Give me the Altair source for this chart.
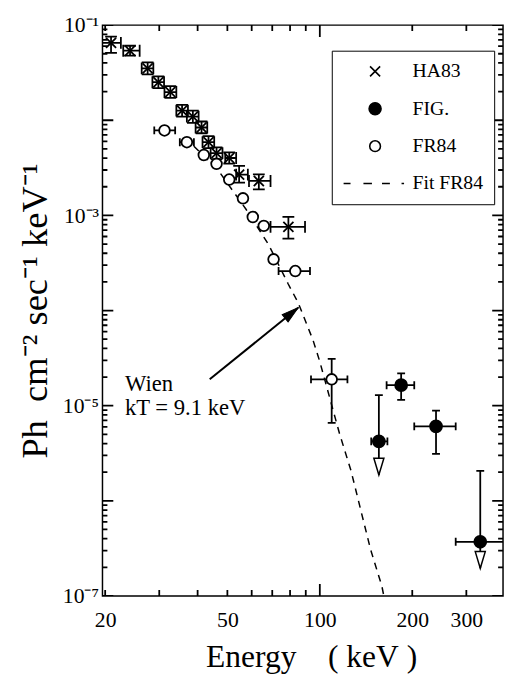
import altair as alt
import pandas as pd

# ---------------- data ----------------
# HA83 (crosses)
ha_E   = [20.9, 24.1, 27.5, 29.8, 32.6, 35.6, 38.6, 41.2, 43.4, 46.1, 50.7, 54.6, 63.3, 79.0]
ha_F   = [0.0651, 0.0538, 0.0351, 0.0251, 0.0198, 0.0126, 0.0109, 0.00839, 0.00588, 0.00452, 0.00401, 0.00268, 0.00230, 0.000757]
ha_Elo = [19.4, 22.9, 26.3, 28.5, 31.2, 34.1, 36.9, 39.4, 41.5, 44.1, 49.2, 53.4, 58.8, 69.1]
ha_Ehi = [22.5, 25.9, 28.7, 31.1, 34.1, 37.2, 40.3, 43.0, 45.3, 48.2, 53.4, 58.3, 69.1, 89.5]
ha_Flo = [0.0510, 0.0478, 0.0304, 0.0218, 0.0172, 0.0109, 0.0094, 0.0073, 0.0051, 0.0039, 0.0035, 0.00221, 0.00188, 0.000569]
ha_Fhi = [0.0757, 0.0607, 0.0405, 0.0290, 0.0229, 0.0145, 0.0126, 0.0097, 0.0068, 0.0052, 0.0046, 0.00332, 0.00270, 0.000962]
ha_Lim = [None] * 14

# FIG. (filled circles)
fig_E   = [155.7, 184.0, 239.0, 333.0]
fig_F   = [4.21e-6, 1.64e-5, 6.06e-6, 3.71e-7]
fig_Elo = [147.0, 165.0, 203.0, 277.0]
fig_Ehi = [166.0, 203.0, 277.0, 420.0]
fig_Flo = [None, 1.15e-5, 3.11e-6, None]
fig_Fhi = [1.29e-5, 2.18e-5, 8.87e-6, 2.06e-6]
fig_Lim = [1.87e-6, None, None, 1.95e-7]   # upper-limit arrow tips

# FR84 (open circles)
fr_E   = [31.2, 36.9, 41.9, 46.1, 50.7, 56.2, 60.5, 65.7, 70.7, 83.2, 109.3]
fr_F   = [0.00782, 0.00588, 0.00431, 0.00348, 0.00238, 0.00151, 0.000962, 0.000776, 0.000345, 0.00026, 1.89e-5]
fr_Elo = [28.9, 35.0, None, None, None, None, None, None, None, 73.4, 93.6]
fr_Ehi = [33.8, 38.9, None, None, None, None, None, None, None, 92.9, 123.0]
fr_Flo = [None] * 10 + [6.6e-6]
fr_Fhi = [None] * 10 + [3.11e-5]
fr_Lim = [None] * 11

# Fit FR84 (dashed Wien curve, read along the dashes)
fit_E = [38.9, 46.8, 57.5, 68.1, 78.9, 85.0, 95.0, 100.0, 115.9, 126.4, 136.0, 146.4, 159.2, 161.6]
fit_F = [5.34e-3, 2.94e-3, 1.16e-3, 4.93e-4, 1.90e-4, 1.21e-4, 4.90e-5, 2.90e-5, 5.09e-6, 2.06e-6, 7.94e-7, 3.06e-7, 1.27e-7, 1.0e-7]

# annotation
ann_text = ["Wien", "kT = 9.1 keV"]
ann_E = [23.2, 23.2]
ann_F = [1.67e-5, 9.46e-6]
arrow_E = [43.8, 85.0]
arrow_F = [1.89e-5, 1.07e-4]

series_names = ["HA83", "FIG.", "FR84", "Fit FR84"]

# axes
x_domain = [19.6, 395.0]
y_domain = [1e-7, 1e-1]
x_label_vals = [20, 50, 100, 200, 300]
x_major_ticks = [100]
x_minor_ticks = [20, 30, 40, 50, 60, 70, 80, 90, 200, 300]
y_label_vals = [1e-1, 1e-3, 1e-5, 1e-7]
y_major_ticks = [1e-7, 1e-6, 1e-5, 1e-4, 1e-3, 1e-2, 1e-1]
y_minor_ticks = [m * 10.0 ** e for e in range(-7, -1) for m in range(2, 10)]

# ---------------- build tables ----------------
FONT = "Liberation Serif"
W, H = 407, 580
xs = alt.Scale(type="log", domain=x_domain, nice=False)
ys = alt.Scale(type="log", domain=y_domain, nice=False)

groups = {
    "HA83": (ha_E, ha_F, ha_Elo, ha_Ehi, ha_Flo, ha_Fhi, ha_Lim),
    "FIG.": (fig_E, fig_F, fig_Elo, fig_Ehi, fig_Flo, fig_Fhi, fig_Lim),
    "FR84": (fr_E, fr_F, fr_Elo, fr_Ehi, fr_Flo, fr_Fhi, fr_Lim),
}
pts, xbar, ybar, vcap, hcap, lim = [], [], [], [], [], []
for s, (E, F, Elo, Ehi, Flo, Fhi, Lim) in groups.items():
    for i in range(len(E)):
        pts.append({"E": E[i], "F": F[i], "series": s})
        if Elo[i] is not None:
            xbar.append({"E": Elo[i], "E2": Ehi[i], "F": F[i]})
            vcap.append({"E": Elo[i], "F": F[i], "s": s})
            vcap.append({"E": Ehi[i], "F": F[i], "s": s})
        if Fhi[i] is not None:
            bottom = Flo[i] if Flo[i] is not None else Lim[i]
            ybar.append({"E": E[i], "F": bottom, "F2": Fhi[i]})
            hcap.append({"E": E[i], "F": Fhi[i], "s": s})
            if Flo[i] is not None:
                hcap.append({"E": E[i], "F": Flo[i], "s": s})
        if Lim[i] is not None:
            lim.append({"E": E[i], "F": Lim[i]})

# inward frame ticks: centred short lines on the frame edges, the outer half clipped away
for v in x_major_ticks:
    vcap += [{"E": v, "F": y_domain[0], "s": "xmaj"}, {"E": v, "F": y_domain[1], "s": "xmaj"}]
for v in x_minor_ticks:
    vcap += [{"E": v, "F": y_domain[0], "s": "xmin"}, {"E": v, "F": y_domain[1], "s": "xmin"}]
for v in y_major_ticks:
    hcap += [{"E": x_domain[0], "F": v, "s": "ymaj"}, {"E": x_domain[1], "F": v, "s": "ymaj"}]
for v in y_minor_ticks:
    hcap += [{"E": x_domain[0], "F": v, "s": "ymin"}, {"E": x_domain[1], "F": v, "s": "ymin"}]

pts_df = pd.DataFrame(pts)
fit_df = pd.DataFrame({"E": fit_E, "F": fit_F})
ann_df = pd.DataFrame({"E": ann_E, "F": ann_F, "t": ann_text})
arr_df = pd.DataFrame({"E": [arrow_E[0]], "F": [arrow_F[0]], "E2": [arrow_E[1]], "F2": [arrow_F[1]]})
tip_df = pd.DataFrame({"E": [arrow_E[1]], "F": [arrow_F[1]]})

# ---------------- shapes ----------------
SH_X = "M-0.16,-0.16L0.16,0.16M0.16,-0.16L-0.16,0.16"
SH_DOT = "M0.19,0A0.19,0.19 0 1,1 -0.19,0A0.19,0.19 0 1,1 0.19,0Z"
SH_O = "M0.17,0A0.17,0.17 0 1,1 -0.17,0A0.17,0.17 0 1,1 0.17,0Z"
SH_DASH = "M-1,0L-0.78,0M-0.37,0L-0.1,0M0.22,0L0.47,0M0.84,0L0.92,0"

def X(field="E", axis=None):
    return alt.X(f"{field}:Q", scale=xs, axis=axis)

def Y(field="F", axis=None):
    return alt.Y(f"{field}:Q", scale=ys, axis=axis)

NB = "\u00a0"
x_main = alt.Axis(orient="bottom", values=x_label_vals, ticks=False, domain=False, grid=False,
                  labelFont=FONT, labelFontSize=22, labelColor="black", labelPadding=14, labelFlush=False,
                  labelOverlap=False, labelExpr="'' + datum.value",
                  title="Energy" + NB * 4 + "(" + NB + "keV" + NB + ")",
                  titleFont=FONT, titleFontSize=32, titleFontWeight="normal", titleColor="black",
                  titlePadding=12, titleX=212)
y_main = alt.Axis(orient="left", values=y_label_vals, ticks=False, domain=False, grid=False,
                  labelFont=FONT, labelFontSize=22, labelColor="black", labelPadding=4, labelFlush=False,
                  labelOverlap=False,
                  labelExpr="datum.value > 0.05 ? '10⁻¹' : datum.value > 5e-4 ? '10⁻³' : datum.value > 5e-6 ? '10⁻⁵' : '10⁻⁷'",
                  title="Ph" + NB * 2 + "cm⁻²" + NB + "sec⁻¹" + NB + "keV⁻¹", titleFont=FONT, titleFontSize=37,
                  titleFontWeight="normal", titleColor="black", titlePadding=8)

fit = alt.Chart(fit_df).mark_line(color="black", strokeWidth=1.5, strokeDash=[7, 6]).encode(
    x=X(axis=x_main), y=Y(axis=y_main), order="E:Q")

SW = 1.8
SIZE_EXPR = ("datum.s == 'HA83' ? 144 : datum.s == 'xmaj' ? 576 : datum.s == 'xmin' ? 144 : "
             "datum.s == 'ymaj' ? 484 : datum.s == 'ymin' ? 100 : 64")
xbars = alt.Chart(pd.DataFrame(xbar)).mark_rule(color="black", strokeWidth=SW, clip=True).encode(
    x=X(), x2="E2:Q", y=Y())
ybars = alt.Chart(pd.DataFrame(ybar)).mark_rule(color="black", strokeWidth=SW, clip=True).encode(
    x=X(), y=Y(), y2="F2:Q")
vcaps = alt.Chart(pd.DataFrame(vcap)).transform_calculate(sz=SIZE_EXPR).mark_point(
    shape="M0,-1L0,1", stroke="black", strokeWidth=SW, opacity=1, clip=True).encode(
    x=X(), y=Y(), size=alt.Size("sz:Q", scale=None, legend=None))
hcaps = alt.Chart(pd.DataFrame(hcap)).transform_calculate(sz=SIZE_EXPR).mark_point(
    shape="M-1,0L1,0", stroke="black", strokeWidth=SW, opacity=1, clip=True).encode(
    x=X(), y=Y(), size=alt.Size("sz:Q", scale=None, legend=None))

arrow_line = alt.Chart(arr_df).mark_rule(color="black", strokeWidth=2).encode(
    x=X(), y=Y(), x2="E2:Q", y2="F2:Q")
arrow_head = alt.Chart(tip_df).mark_point(shape="M0,0L0.28,1L-0.28,1Z", size=1156, filled=True,
                                          fill="black", stroke="black", strokeWidth=1, opacity=1,
                                          angle=51).encode(x=X(), y=Y())
ann = alt.Chart(ann_df).mark_text(align="left", baseline="middle", font=FONT, fontSize=23,
                                  color="black").encode(x=X(), y=Y(), text="t:N")

legend = alt.Legend(title=None, orient="none", legendX=233, legendY=26, padding=11,
                    strokeColor="black", fillColor="white", symbolSize=4096, clipHeight=20,
                    rowPadding=18, labelFont=FONT, labelFontSize=20, labelColor="black",
                    labelOffset=5, symbolStrokeColor="black", symbolStrokeWidth=1.6, symbolOpacity=1,
                    cornerRadius=0)
points = alt.Chart(pts_df).mark_point(size=4096, stroke="black", strokeWidth=SW, opacity=1).encode(
    x=X(), y=Y(),
    shape=alt.Shape("series:N", scale=alt.Scale(domain=series_names, range=[SH_X, SH_DOT, SH_O, SH_DASH]),
                    legend=legend),
    fill=alt.Fill("series:N", scale=alt.Scale(domain=series_names, range=["black", "black", "white", "white"]),
                  legend=legend),
    stroke=alt.Stroke("series:N", scale=alt.Scale(domain=series_names, range=["black", "black", "black", "black"]),
                      legend=legend),
)
limits = alt.Chart(pd.DataFrame(lim)).mark_point(shape="M0,0L-0.3,-1L0.3,-1Z", size=1156, fill="white",
                                                 filled=False, stroke="black", strokeWidth=1.5,
                                                 opacity=1).encode(x=X(), y=Y())

chart = alt.layer(
    fit, xbars, ybars, vcaps, hcaps, arrow_line, arrow_head, ann, points, limits
).resolve_axis(x="independent", y="independent").properties(
    width=W, height=H,
    autosize=alt.AutoSizeParams(type="none"),
    padding={"left": 96, "top": 12, "right": 2, "bottom": 78},
).configure_view(stroke="black", strokeWidth=1.5)

chart.save("out.html", embed_options={"renderer": "svg", "actions": False})
